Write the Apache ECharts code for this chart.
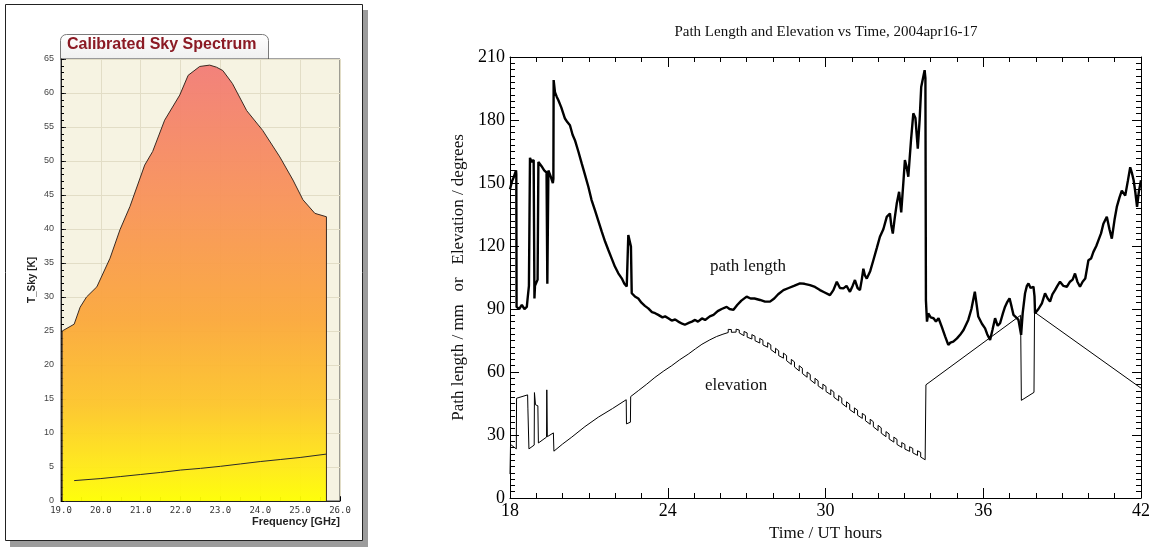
<!DOCTYPE html>
<html>
<head>
<meta charset="utf-8">
<title>Sky spectrum / path length</title>
<script src="https://cdn.jsdelivr.net/npm/echarts@6/dist/echarts.min.js"></script>
<style>
  html, body { margin: 0; padding: 0; background: #fff; }
  #chart { width: 1157px; height: 547px; }
</style>
</head>
<body>
<div id="chart"></div>
<script>
// left panel: calibrated sky spectrum, [GHz, K]
var skyUpper = [
  [19.03, 0], [19.03, 25], [19.33, 26], [19.48, 28.5], [19.64, 30], [19.9, 31.5],
  [20.23, 35.7], [20.48, 39.9], [20.73, 43.3], [21.1, 49.4], [21.3, 51.4], [21.6, 56],
  [21.98, 59.7], [22.19, 62.6], [22.48, 63.9], [22.73, 64.1], [22.9, 63.8], [23.06, 63.3],
  [23.3, 61.4], [23.66, 57.4], [24.06, 54.5], [24.49, 50.6], [24.82, 47.2], [25.07, 44.3],
  [25.37, 42.3], [25.66, 41.8], [25.66, 0]
];
var skyLower = [
  [19.33, 3.0], [20.0, 3.3], [20.5, 3.6], [21.0, 3.9], [21.5, 4.2], [22.0, 4.55],
  [22.5, 4.8], [23.0, 5.1], [23.5, 5.45], [24.0, 5.8], [24.5, 6.1], [25.0, 6.4], [25.66, 6.9]
];

// right panel: [UT hours, mm]
var pathLength = [
  [18.0, 147], [18.08, 151], [18.15, 153], [18.23, 156], [18.24, 154], [18.25, 91],
  [18.35, 90], [18.45, 92], [18.55, 90], [18.64, 91], [18.67, 95], [18.72, 101],
  [18.76, 162], [18.82, 160], [18.9, 161], [18.93, 95], [18.95, 101], [19.05, 104],
  [19.08, 160], [19.2, 158], [19.3, 156], [19.39, 155], [19.42, 102], [19.46, 156],
  [19.55, 153], [19.63, 150], [19.65, 152], [19.66, 199], [19.71, 193.3], [19.78, 191],
  [19.84, 189.4], [19.95, 186], [20.09, 180.7], [20.18, 179], [20.28, 177.5], [20.38, 173],
  [20.47, 170.4], [20.6, 165], [20.73, 159.2], [20.85, 154], [20.98, 148.2], [21.1, 142],
  [21.23, 137.1], [21.36, 132], [21.49, 126.8], [21.62, 122], [21.74, 118.1], [21.87, 114],
  [21.99, 110.2], [22.12, 107], [22.25, 104.6], [22.35, 102], [22.44, 100.7], [22.48, 100],
  [22.5, 125.2], [22.6, 119.7], [22.63, 97.5], [22.75, 96], [22.88, 95], [23.0, 93],
  [23.13, 91.5], [23.26, 90.3], [23.4, 88.5], [23.52, 88], [23.64, 87.2], [23.8, 86],
  [23.9, 86.5], [24.02, 85.6], [24.15, 84.5], [24.28, 85], [24.4, 84], [24.55, 83],
  [24.65, 82.5], [24.72, 81.6], [24.82, 83.5], [24.92, 84], [25.04, 84.8], [25.15, 84],
  [25.3, 85.5], [25.42, 84.8], [25.6, 86.5], [25.74, 87.2], [25.9, 89], [26.05, 90],
  [26.24, 91], [26.35, 90], [26.5, 89.6], [26.65, 92], [26.8, 94], [27.0, 95.9],
  [27.15, 95], [27.3, 95], [27.51, 94.3], [27.7, 93.5], [27.89, 93.5], [28.05, 95],
  [28.2, 97], [28.4, 99], [28.6, 100], [28.8, 101], [29.03, 102.2], [29.2, 102],
  [29.41, 101.4], [29.6, 100.5], [29.79, 99], [29.95, 98], [30.17, 96.6], [30.3, 99],
  [30.43, 103], [30.55, 100], [30.68, 99.8], [30.8, 101], [30.93, 98.2], [31.03, 101],
  [31.12, 103.8], [31.22, 100], [31.31, 99], [31.38, 104], [31.44, 109.2], [31.5, 106],
  [31.57, 104.5], [31.7, 108], [31.82, 113.2], [31.95, 119], [32.07, 124.4], [32.2, 128],
  [32.33, 133.9], [32.45, 135.5], [32.5, 130], [32.56, 125.9], [32.63, 133], [32.71, 140.2],
  [32.8, 145.8], [32.88, 136], [32.96, 150], [33.02, 160.9], [33.08, 158], [33.15, 153],
  [33.25, 170], [33.34, 183.2], [33.42, 181], [33.51, 166.4], [33.58, 180], [33.64, 195.7],
  [33.77, 203.7], [33.8, 200], [33.82, 94], [33.86, 84], [33.91, 87.9], [34.0, 86],
  [34.11, 85.6], [34.2, 84], [34.3, 85.6], [34.42, 81.6], [34.55, 77], [34.67, 72.9],
  [34.75, 74], [34.86, 74.5], [35.0, 76], [35.12, 77.7], [35.25, 80], [35.43, 84.8],
  [35.55, 90], [35.68, 98.2], [35.75, 92], [35.81, 86.4], [35.95, 83], [36.07, 80.8],
  [36.15, 78], [36.26, 75.3], [36.35, 80], [36.45, 85.6], [36.55, 82], [36.64, 83.2],
  [36.75, 88], [36.83, 91.1], [36.9, 93], [37.0, 95.1], [37.08, 91], [37.15, 87.2],
  [37.25, 86], [37.34, 84.8], [37.44, 77.7], [37.5, 88], [37.59, 97.5], [37.66, 101],
  [37.72, 102.2], [37.8, 100], [37.91, 100.6], [37.95, 96], [37.97, 88], [38.1, 90],
  [38.23, 92.7], [38.35, 97.5], [38.45, 95], [38.54, 93.5], [38.63, 97], [38.73, 99],
  [38.82, 101], [38.92, 103], [39.05, 101], [39.18, 100.6], [39.3, 103], [39.4, 104],
  [39.49, 106.9], [39.58, 103], [39.68, 100.6], [39.78, 103], [39.88, 104.5], [40.0, 113.2],
  [40.1, 114], [40.19, 117.2], [40.3, 120], [40.38, 122.7], [40.48, 126], [40.57, 130.6],
  [40.7, 133.9], [40.8, 128], [40.89, 123.5], [41.0, 133], [41.08, 138.6], [41.18, 143],
  [41.27, 146.4], [41.4, 144], [41.5, 151], [41.59, 157.5], [41.65, 155], [41.72, 151.3],
  [41.78, 146], [41.85, 138.6], [41.92, 146], [42.0, 151.3]
];

// [UT hours, degrees]
var elevation = [
  [18.0, 11.4], [18.02, 25.5], [18.24, 23.4], [18.25, 47.5], [18.67, 49.1], [18.68, 42.8],
  [18.71, 42.5], [18.72, 23.4], [18.92, 25.2], [18.93, 50.2], [18.97, 44.4], [19.06, 43.9],
  [19.08, 26.2], [19.39, 29], [19.4, 51.5], [19.42, 29.2], [19.65, 31], [19.67, 22.3],
  [20.0, 25.7], [20.35, 29], [20.85, 34], [21.36, 38.5], [21.9, 42.6], [22.42, 46.8],
  [22.43, 35.3], [22.58, 36.1], [22.59, 48.3], [22.88, 51.1], [23.2, 54.2], [23.51, 57.4],
  [23.85, 60.5], [24.15, 63], [24.45, 65.8], [24.78, 68.5], [25.05, 71], [25.3, 73.2],
  [25.6, 75.3], [25.86, 76.9], [26.1, 78],
  [26.3, 78.8], [26.3, 80.3], [26.42, 80.2], [26.42, 78.9],
  [26.6, 79.0], [26.6, 80.4], [26.72, 80.0], [26.72, 78.6],
  [26.9, 77.3], [26.9, 79.3], [27.02, 78.6], [27.02, 76.6],
  [27.2, 75.7], [27.2, 77.8], [27.32, 77.0], [27.32, 74.9],
  [27.5, 73.8], [27.5, 76.0], [27.62, 75.1], [27.62, 72.9],
  [27.8, 71.8], [27.8, 74.0], [27.92, 72.9], [27.92, 70.7],
  [28.1, 69.0], [28.1, 71.3], [28.22, 70.1], [28.22, 67.8],
  [28.4, 66.6], [28.4, 69.0], [28.52, 67.8], [28.52, 65.4],
  [28.7, 63.6], [28.7, 66.0], [28.82, 64.8], [28.82, 62.4],
  [29.0, 60.5], [29.0, 63.0], [29.12, 61.8], [29.12, 59.3],
  [29.3, 57.5], [29.3, 60.0], [29.42, 58.8], [29.42, 56.3],
  [29.6, 54.5], [29.6, 57.0], [29.72, 55.8], [29.72, 53.4],
  [29.9, 51.8], [29.9, 54.2], [30.02, 53.1], [30.02, 50.7],
  [30.2, 49.2], [30.2, 51.6], [30.32, 50.4], [30.32, 48.0],
  [30.5, 46.3], [30.5, 48.8], [30.62, 47.6], [30.62, 45.1],
  [30.8, 43.3], [30.8, 45.8], [30.92, 44.6], [30.92, 42.1],
  [31.1, 40.5], [31.1, 42.9], [31.22, 41.8], [31.22, 39.4],
  [31.4, 37.9], [31.4, 40.3], [31.52, 39.2], [31.52, 36.8],
  [31.7, 35.1], [31.7, 37.5], [31.82, 36.3], [31.82, 33.9],
  [32.0, 32.1], [32.0, 34.6], [32.12, 33.4], [32.12, 30.9],
  [32.3, 29.2], [32.3, 31.6], [32.42, 30.5], [32.42, 28.1],
  [32.6, 26.6], [32.6, 29.0], [32.72, 27.9], [32.72, 25.5],
  [32.9, 24.1], [32.9, 26.4], [33.02, 25.5], [33.02, 23.3],
  [33.2, 22.2], [33.2, 24.4], [33.32, 23.6], [33.32, 21.5],
  [33.5, 20.3], [33.5, 22.5], [33.62, 21.7], [33.62, 19.5],
  [33.79, 18.2], [33.82, 17.8], [33.82, 53.9], [37.42, 87], [37.44, 86.6], [37.45, 46.5],
  [37.93, 50.3], [37.95, 88.5], [38.0, 88.4], [42.0, 52.3]
];

var serif = "'Liberation Serif', 'Times New Roman', serif";
var sans = "'Liberation Sans', Arial, sans-serif";

// tick-only axis: small inward ticks, no line, no labels
function tickAxis(gridIndex, position, min, max, interval, len) {
  return {
    gridIndex: gridIndex,
    type: 'value',
    position: position,
    min: min, max: max, interval: interval,
    axisLine: { show: false, onZero: false },
    axisTick: { show: true, inside: true, length: len, lineStyle: { color: '#000' } },
    axisLabel: { show: false },
    splitLine: { show: false }
  };
}

var chart = echarts.init(document.getElementById('chart'));
chart.setOption({
  animation: false,
  backgroundColor: '#fff',
  title: [{
    text: 'Calibrated Sky Spectrum',
    left: 67,
    top: 37,
    padding: 0,
    textStyle: { fontFamily: sans, fontSize: 16, fontWeight: 'bold', color: '#8b1a24' }
  }, {
    text: 'Path Length and Elevation vs Time, 2004apr16-17',
    left: 826,
    top: 25,
    padding: 0,
    textAlign: 'center',
    textStyle: { fontFamily: serif, fontSize: 15, fontWeight: 'normal', color: '#111' }
  }],
  graphic: [
    { type: 'rect', z: -10, shape: { x: 10, y: 10, width: 358, height: 537 }, style: { fill: '#9c9c9c' } },
    { type: 'rect', z: -9, shape: { x: 5.5, y: 4.5, width: 357, height: 536 }, style: { fill: '#fff', stroke: '#222', lineWidth: 1 } },
    {
      type: 'rect', z: -8,
      shape: { x: 60.5, y: 34.5, width: 208, height: 25, r: [6, 6, 0, 0] },
      style: {
        fill: new echarts.graphic.LinearGradient(0, 0, 0, 1, [
          { offset: 0, color: '#ffffff' }, { offset: 1, color: '#efefef' }
        ]),
        stroke: '#7a7a7a', lineWidth: 1
      }
    }
  ],
  grid: [
    { left: 61, top: 59, width: 279, height: 442, show: true, backgroundColor: '#f6f3e2', borderColor: '#444', borderWidth: 1 },
    { left: 510, top: 57, width: 631, height: 441 }
  ],
  xAxis: [{
    gridIndex: 0,
    type: 'value',
    min: 19, max: 26, interval: 1,
    name: 'Frequency [GHz]',
    nameLocation: 'end',
    nameGap: 0,
    nameTextStyle: { fontFamily: sans, fontSize: 11, fontWeight: 'bold', color: '#222', align: 'right', verticalAlign: 'top', padding: [15, 0, 0, 0] },
    axisLine: { onZero: false, lineStyle: { color: '#222' } },
    axisTick: { inside: true, length: 5, lineStyle: { color: '#333' } },
    axisLabel: { fontFamily: "'DejaVu Sans Mono', monospace", fontSize: 9, color: '#333', margin: 5, formatter: function (v) { return v.toFixed(1); } },
    splitLine: { show: true, lineStyle: { color: '#e2ddc6' } }
  }, {
    gridIndex: 1,
    type: 'value',
    min: 18, max: 42, interval: 6,
    name: 'Time / UT hours',
    nameLocation: 'middle',
    nameGap: 24,
    nameTextStyle: { fontFamily: serif, fontSize: 17, color: '#111' },
    axisLine: { onZero: false, lineStyle: { color: '#000' } },
    axisTick: { inside: true, length: 10, lineStyle: { color: '#000' } },
    axisLabel: { fontFamily: serif, fontSize: 18, color: '#000', margin: 4 },
    splitLine: { show: false }
  }, {
    gridIndex: 1,
    type: 'value',
    position: 'top',
    min: 18, max: 42, interval: 6,
    axisLine: { onZero: false, lineStyle: { color: '#000' } },
    axisTick: { inside: true, length: 10, lineStyle: { color: '#000' } },
    axisLabel: { show: false },
    splitLine: { show: false }
  },
    tickAxis(1, 'bottom', 18, 42, 1, 5),
    tickAxis(1, 'top', 18, 42, 1, 5),
    tickAxis(0, 'bottom', 19, 26, 0.5, 4)
  ],
  yAxis: [{
    gridIndex: 0,
    type: 'value',
    min: 0, max: 65, interval: 5,
    name: 'T_Sky [K]',
    nameLocation: 'middle',
    nameGap: 24,
    nameTextStyle: { fontFamily: sans, fontSize: 10, fontWeight: 'bold', color: '#222' },
    axisLine: { show: true, onZero: false, lineStyle: { color: '#222' } },
    axisTick: { show: true, inside: true, length: 5, lineStyle: { color: '#333' } },
    axisLabel: { fontFamily: sans, fontSize: 9, color: '#444', margin: 7 },
    splitLine: { show: true, lineStyle: { color: '#e2ddc6' } }
  }, {
    gridIndex: 1,
    type: 'value',
    min: 0, max: 210, interval: 30,
    name: 'Path length / mm   or   Elevation / degrees',
    nameLocation: 'middle',
    nameGap: 39,
    nameTextStyle: { fontFamily: serif, fontSize: 17, color: '#111' },
    axisLine: { show: true, onZero: false, lineStyle: { color: '#000' } },
    axisTick: { show: true, inside: true, length: 9, lineStyle: { color: '#000' } },
    axisLabel: { fontFamily: serif, fontSize: 18, color: '#000', margin: 5 },
    splitLine: { show: false }
  }, {
    gridIndex: 1,
    type: 'value',
    position: 'right',
    min: 0, max: 210, interval: 30,
    axisLine: { show: true, onZero: false, lineStyle: { color: '#000' } },
    axisTick: { show: true, inside: true, length: 9, lineStyle: { color: '#000' } },
    axisLabel: { show: false },
    splitLine: { show: false }
  },
    tickAxis(1, 'left', 0, 210, 3, 5),
    tickAxis(1, 'right', 0, 210, 3, 5),
    tickAxis(0, 'left', 0, 65, 1, 3)
  ],
  series: [{
    name: 'T_Sky',
    type: 'line',
    xAxisIndex: 0, yAxisIndex: 0,
    data: skyUpper,
    showSymbol: false,
    symbol: 'none',
    lineStyle: { color: '#3a2a22', width: 1 },
    areaStyle: {
      opacity: 0.95,
      color: new echarts.graphic.LinearGradient(0, 0, 0, 1, [
        { offset: 0, color: '#f27c76' },
        { offset: 0.3, color: '#f8925a' },
        { offset: 0.58, color: '#fba73b' },
        { offset: 0.78, color: '#fdc52a' },
        { offset: 0.92, color: '#ffe916' },
        { offset: 1, color: '#ffff00' }
      ])
    }
  }, {
    name: 'T_Sky low',
    type: 'line',
    xAxisIndex: 0, yAxisIndex: 0,
    data: skyLower,
    showSymbol: false,
    symbol: 'none',
    lineStyle: { color: '#2a2a2a', width: 1 }
  }, {
    name: 'path length',
    type: 'line',
    xAxisIndex: 1, yAxisIndex: 1,
    data: pathLength,
    showSymbol: false,
    symbol: 'none',
    lineStyle: { color: '#000', width: 2.4 },
    markPoint: {
      symbol: 'circle', symbolSize: 1,
      itemStyle: { color: 'rgba(0,0,0,0)' },
      label: { show: true, position: 'inside', fontFamily: serif, fontSize: 17, color: '#111', formatter: '{b}' },
      data: [{ name: 'path length', coord: [27.05, 110] }]
    }
  }, {
    name: 'elevation',
    type: 'line',
    xAxisIndex: 1, yAxisIndex: 1,
    data: elevation,
    showSymbol: false,
    symbol: 'none',
    lineStyle: { color: '#000', width: 1 },
    markPoint: {
      symbol: 'circle', symbolSize: 1,
      itemStyle: { color: 'rgba(0,0,0,0)' },
      label: { show: true, position: 'inside', fontFamily: serif, fontSize: 17, color: '#111', formatter: '{b}' },
      data: [{ name: 'elevation', coord: [26.6, 53.4] }]
    }
  }]
});
</script>
</body>
</html>
